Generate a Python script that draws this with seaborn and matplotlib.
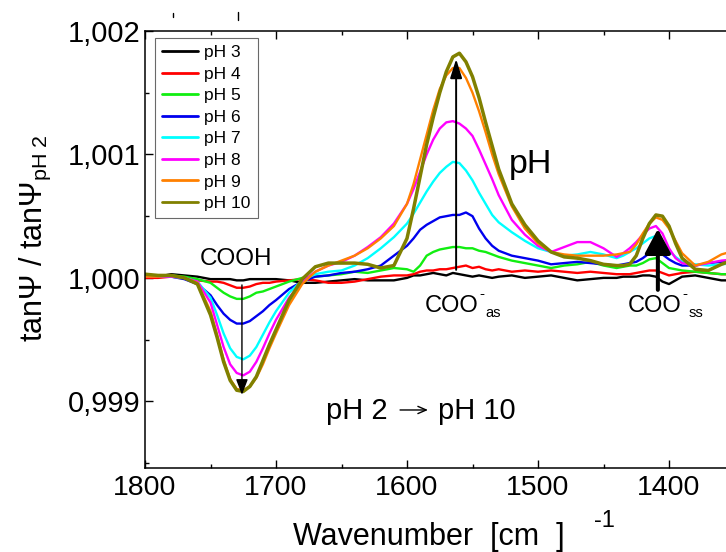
import matplotlib
matplotlib.use("Agg")
import matplotlib.pyplot as plt
from matplotlib.ticker import MultipleLocator, FuncFormatter
from matplotlib.lines import Line2D
import pandas as pd
import seaborn as sns

# Wavenumber grid [cm^-1] shared by all spectra
wavenumber = [1800, 1790, 1780, 1770, 1760, 1750, 1745, 1740, 1735, 1730,
              1725, 1720, 1715, 1710, 1705, 1700, 1690, 1680, 1670, 1660,
              1650, 1640, 1630, 1620, 1610, 1600, 1595, 1590, 1585, 1580,
              1575, 1570, 1565, 1560, 1555, 1550, 1545, 1540, 1535, 1530,
              1520, 1510, 1500, 1490, 1480, 1470, 1460, 1450, 1440, 1435,
              1430, 1425, 1420, 1415, 1410, 1405, 1400, 1395, 1390, 1380,
              1370, 1360, 1350]

# Deviation of tanPsi/tanPsi(pH 2) from 1, in units of 1e-3
ph3 = [0.00, 0.01, 0.03, 0.02, 0.01, -0.01, -0.01, -0.01, -0.01, -0.02,
       -0.02, -0.01, -0.01, -0.01, -0.01, -0.01, -0.02, -0.04, -0.04, -0.03,
       -0.02, -0.01, -0.02, -0.02, -0.02, 0.00, 0.02, 0.02, 0.03, 0.04,
       0.03, 0.02, 0.04, 0.03, 0.02, 0.01, 0.02, 0.01, 0.00, 0.01,
       0.02, 0.00, 0.01, 0.02, 0.00, -0.02, -0.01, 0.00, 0.00, 0.01,
       0.01, 0.01, 0.02, 0.02, 0.01, -0.03, -0.05, -0.02, 0.01, 0.02,
       0.00, -0.02, -0.02]
ph4 = [0.00, 0.00, 0.01, 0.00, -0.02, -0.03, -0.03, -0.04, -0.06, -0.08,
       -0.08, -0.07, -0.05, -0.04, -0.04, -0.03, -0.02, -0.01, -0.02, -0.04,
       -0.04, -0.03, -0.01, 0.01, 0.02, 0.02, 0.03, 0.05, 0.06, 0.06,
       0.07, 0.07, 0.08, 0.09, 0.10, 0.08, 0.09, 0.07, 0.06, 0.07,
       0.05, 0.06, 0.05, 0.06, 0.05, 0.04, 0.05, 0.04, 0.03, 0.03,
       0.03, 0.04, 0.05, 0.06, 0.06, 0.04, 0.02, 0.03, 0.04, 0.05,
       0.04, 0.03, 0.03]
ph5 = [0.01, 0.02, 0.02, 0.01, -0.01, -0.04, -0.08, -0.12, -0.15, -0.17,
       -0.17, -0.15, -0.12, -0.11, -0.09, -0.07, -0.03, 0.00, 0.01, 0.02,
       0.03, 0.05, 0.04, 0.06, 0.08, 0.07, 0.05, 0.10, 0.18, 0.21,
       0.23, 0.24, 0.25, 0.25, 0.24, 0.24, 0.22, 0.21, 0.19, 0.17,
       0.14, 0.12, 0.10, 0.08, 0.10, 0.11, 0.13, 0.10, 0.08, 0.09,
       0.10, 0.10, 0.12, 0.15, 0.16, 0.12, 0.08, 0.07, 0.06, 0.05,
       0.04, 0.03, 0.03]
ph6 = [0.01, 0.01, 0.01, -0.01, -0.05, -0.14, -0.22, -0.29, -0.34, -0.37,
       -0.37, -0.35, -0.31, -0.27, -0.22, -0.18, -0.09, -0.03, 0.01, 0.02,
       0.04, 0.05, 0.07, 0.10, 0.18, 0.26, 0.32, 0.39, 0.43, 0.46,
       0.49, 0.50, 0.51, 0.51, 0.53, 0.50, 0.40, 0.32, 0.26, 0.22,
       0.18, 0.16, 0.14, 0.11, 0.12, 0.13, 0.12, 0.11, 0.10, 0.11,
       0.12, 0.13, 0.16, 0.20, 0.22, 0.19, 0.15, 0.12, 0.10, 0.10,
       0.12, 0.13, 0.14]
ph7 = [0.01, 0.01, 0.01, 0.00, -0.03, -0.16, -0.30, -0.45, -0.57, -0.64,
       -0.66, -0.63, -0.56, -0.46, -0.36, -0.27, -0.12, -0.02, 0.03, 0.05,
       0.06, 0.10, 0.16, 0.24, 0.33, 0.44, 0.52, 0.61, 0.70, 0.78,
       0.85, 0.90, 0.94, 0.93, 0.87, 0.79, 0.69, 0.60, 0.51, 0.45,
       0.37, 0.30, 0.24, 0.21, 0.18, 0.19, 0.21, 0.19, 0.16, 0.18,
       0.21, 0.24, 0.28, 0.32, 0.34, 0.28, 0.22, 0.17, 0.13, 0.11,
       0.10, 0.11, 0.12]
ph8 = [0.01, 0.01, 0.01, 0.00, -0.03, -0.20, -0.38, -0.56, -0.70, -0.77,
       -0.79, -0.76, -0.68, -0.57, -0.45, -0.34, -0.16, -0.03, 0.05, 0.10,
       0.13, 0.18, 0.25, 0.33, 0.44, 0.60, 0.72, 0.86, 1.00, 1.12,
       1.21, 1.26, 1.27, 1.25, 1.21, 1.15, 1.04, 0.92, 0.80, 0.67,
       0.47, 0.35, 0.26, 0.21, 0.25, 0.29, 0.29, 0.24, 0.17, 0.20,
       0.24, 0.29, 0.35, 0.40, 0.42, 0.36, 0.24, 0.16, 0.12, 0.10,
       0.12, 0.14, 0.15]
ph9 = [0.01, 0.01, 0.02, 0.00, -0.04, -0.27, -0.46, -0.66, -0.82, -0.90,
       -0.91, -0.88, -0.81, -0.70, -0.57, -0.45, -0.22, -0.05, 0.05, 0.10,
       0.14, 0.18, 0.24, 0.32, 0.42, 0.60, 0.76, 0.96, 1.16, 1.36,
       1.53, 1.64, 1.70, 1.70, 1.62, 1.50, 1.35, 1.18, 1.00, 0.84,
       0.58, 0.40, 0.28, 0.21, 0.19, 0.18, 0.18, 0.18, 0.19, 0.20,
       0.21, 0.27, 0.36, 0.44, 0.49, 0.47, 0.40, 0.30, 0.20, 0.10,
       0.13, 0.19, 0.22]
ph10 = [0.03, 0.02, 0.02, 0.00, -0.05, -0.30, -0.48, -0.68, -0.83, -0.91,
        -0.92, -0.88, -0.80, -0.67, -0.54, -0.42, -0.18, -0.01, 0.09, 0.12,
        0.12, 0.12, 0.11, 0.08, 0.10, 0.32, 0.56, 0.82, 1.08, 1.30,
        1.50, 1.67, 1.79, 1.82, 1.75, 1.63, 1.46, 1.26, 1.07, 0.88,
        0.60, 0.43, 0.30, 0.21, 0.17, 0.16, 0.14, 0.11, 0.10, 0.10,
        0.11, 0.18, 0.32, 0.44, 0.51, 0.50, 0.42, 0.28, 0.16, 0.07,
        0.06, 0.11, 0.15]

series_labels = ["pH 3", "pH 4", "pH 5", "pH 6", "pH 7", "pH 8", "pH 9", "pH 10"]
series_values = [ph3, ph4, ph5, ph6, ph7, ph8, ph9, ph10]
series_colors = ["#000000", "#ff0000", "#11ee11", "#0000ee",
                 "#00ffff", "#ff00ff", "#ff8000", "#808000"]

# Band positions marked with arrows
band_cooh = 1726
band_as = 1562.5
band_ss = 1408.5

rows = []
for lab, vals in zip(series_labels, series_values):
    for w, v in zip(wavenumber, vals):
        rows.append({"wn": w, "ratio": 1.0 + v * 1e-3, "series": lab})
df = pd.DataFrame(rows)

sns.set_theme(style="ticks")
plt.rcParams["font.family"] = ["Liberation Sans", "DejaVu Sans"]
plt.rcParams["mathtext.fontset"] = "custom"
plt.rcParams["mathtext.rm"] = "Liberation Sans"
plt.rcParams["mathtext.it"] = "Liberation Sans:italic"
plt.rcParams["mathtext.bf"] = "Liberation Sans:bold"
plt.rcParams["mathtext.sf"] = "Liberation Sans"

W, H = 726, 552
fig = plt.figure(figsize=(W / 100, H / 100), dpi=100)
fig.patch.set_facecolor("white")
# axes run slightly past the right edge of the canvas
ax = fig.add_axes([145 / W, 84 / H, 589.5 / W, 437 / H])
ax.set_facecolor("white")

sns.lineplot(data=df, x="wn", y="ratio", hue="series", hue_order=series_labels,
             palette=series_colors, sort=False, estimator=None,
             linewidth=1.7, ax=ax, legend=False)
ax.lines[-1].set_linewidth(2.5)

ax.set_xlim(1800, 1350)
ax.set_ylim(0.99846, 1.002)

ax.xaxis.set_major_locator(MultipleLocator(100))
ax.xaxis.set_minor_locator(MultipleLocator(50))
ax.yaxis.set_major_locator(MultipleLocator(0.001))
ax.yaxis.set_minor_locator(MultipleLocator(0.0005))
ax.yaxis.set_major_formatter(FuncFormatter(lambda v, p: f"{v:.3f}".replace(".", ",")))
ax.xaxis.set_major_formatter(FuncFormatter(lambda v, p: f"{v:.0f}"))

ax.tick_params(which="both", direction="in", top=True, right=True,
               color="black", width=1.0)
ax.tick_params(which="major", length=5.8)
ax.tick_params(which="minor", length=3.0)
ax.tick_params(axis="x", labelsize=20.5, pad=5, labelcolor="black")
ax.tick_params(axis="y", labelsize=21, pad=3.5, labelcolor="black")
for s in ax.spines.values():
    s.set_color("black")
    s.set_linewidth(1.1)

ax.set_xlabel("")
ax.set_ylabel("")

# Axis titles
fig.text(35 / W, 1 - 238 / H, "tanΨ / tanΨ$_{\\mathrm{pH\\ 2}}$", rotation=90,
         ha="center", va="center", fontsize=22, color="black")
fig.text(429 / W, 1 - 537 / H, "Wavenumber  [cm  ]", ha="center", va="center",
         fontsize=22, color="black")
fig.text(604 / W, 1 - 521 / H, "-1", ha="center", va="center",
         fontsize=17, color="black")

# Band annotations
ax.annotate("", xy=(band_cooh, 0.999053), xytext=(band_cooh, 0.999943),
            arrowprops=dict(arrowstyle="-|>,head_length=9.4,head_width=3.6",
                            mutation_scale=1, lw=1.0, color="black",
                            shrinkA=0, shrinkB=0))
ax.annotate("", xy=(band_as, 1.001773), xytext=(band_as, 1.000065),
            arrowprops=dict(arrowstyle="-|>,head_length=11.5,head_width=3.6",
                            mutation_scale=1, lw=1.4, color="black",
                            shrinkA=0, shrinkB=0))
ax.annotate("", xy=(band_ss, 1.000397), xytext=(band_ss, 0.999903),
            arrowprops=dict(arrowstyle="-|>,head_length=15,head_width=8",
                            mutation_scale=1, lw=2.9, color="black",
                            shrinkA=0, shrinkB=0))

ax.text(1730.5, 1.000154, "COOH", ha="center", va="center", fontsize=17.5, color="black")


def carboxylate_label(x, y, sub):
    """COO with a small charge sign and a subscript mode label."""
    ax.text(x, y, "COO", ha="left", va="baseline", fontsize=17, color="black")
    ax.annotate("-", xy=(x, y), xytext=(39.5, 10.5), textcoords="offset points",
                ha="left", va="baseline", fontsize=11, color="black")
    ax.annotate(sub, xy=(x, y), xytext=(43.5, -3.5), textcoords="offset points",
                ha="left", va="baseline", fontsize=10.5, color="black")


carboxylate_label(1586.3, 0.99972, "as")
carboxylate_label(1431.3, 0.99972, "ss")

ax.text(1506, 1.000915, "pH", ha="center", va="center", fontsize=24.5, color="black")

# pH 2 -> pH 10 caption with a thin arrow between the two parts
ax.text(1614.5, 0.998923, "pH 2", ha="right", va="center", fontsize=21, color="black")
ax.annotate("", xy=(1584.0, 0.99893), xytext=(1605.3, 0.99893),
            arrowprops=dict(arrowstyle="->,head_length=6,head_width=2.6",
                            mutation_scale=1, lw=1.0, color="black",
                            shrinkA=0, shrinkB=0))
ax.text(1576.3, 0.998923, "pH 10", ha="left", va="center", fontsize=21, color="black")

handles = [Line2D([0], [0], color=c, lw=2.0) for c in series_colors]
leg = ax.legend(handles, series_labels, loc="upper left",
                bbox_to_anchor=((155 - 145) / 589.5, (468 - 38) / 437),
                borderaxespad=0, fontsize=12.5, frameon=True, fancybox=False,
                handlelength=2.1, handletextpad=0.35, labelspacing=0.37,
                borderpad=0.4)
leg.get_frame().set_edgecolor("#444444")
leg.get_frame().set_linewidth(0.8)
for t in leg.get_texts():
    t.set_color("black")

# Small marks along the top edge
for x0, y0, y1 in [(173, 13, 17), (238, 12, 20)]:
    fig.add_artist(Line2D([x0 / W, x0 / W], [1 - y0 / H, 1 - y1 / H],
                          transform=fig.transFigure, color="black", lw=1.0))

fig.savefig("out.png", dpi=100, facecolor="white")
